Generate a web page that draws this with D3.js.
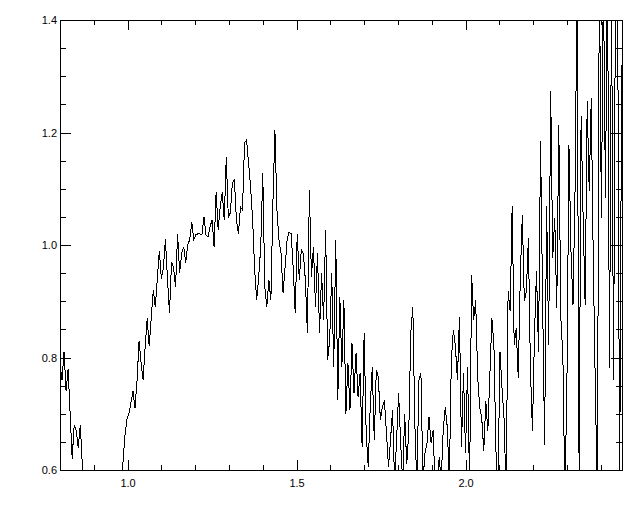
<!DOCTYPE html>
<html><head><meta charset="utf-8">
<script src="https://cdn.jsdelivr.net/npm/d3@7"></script>
<style>body{margin:0;background:#fff}svg{display:block}</style>
</head><body><svg id="c" width="640" height="512"></svg>
<script>
const wavelength = [
0.800,0.806,0.812,0.818,0.824,0.830,0.836,0.842,0.848,0.854,
0.860,0.866,0.872,0.878,0.884,0.890,0.896,0.902,0.908,0.914,
0.920,0.926,0.932,0.938,0.944,0.950,0.956,0.962,0.968,0.974,
0.980,0.986,0.992,0.998,1.004,1.010,1.016,1.022,1.028,1.034,
1.040,1.046,1.052,1.058,1.064,1.070,1.076,1.082,1.088,1.094,
1.100,1.106,1.112,1.118,1.124,1.130,1.136,1.142,1.148,1.154,
1.160,1.166,1.172,1.178,1.184,1.190,1.196,1.202,1.208,1.214,
1.220,1.226,1.232,1.238,1.244,1.250,1.256,1.262,1.268,1.274,
1.280,1.286,1.292,1.298,1.304,1.310,1.316,1.322,1.328,1.334,
1.340,1.346,1.352,1.358,1.364,1.370,1.376,1.382,1.388,1.394,
1.400,1.406,1.412,1.418,1.424,1.430,1.436,1.442,1.448,1.454,
1.460,1.466,1.472,1.478,1.484,1.490,1.496,1.502,1.508,1.514,
1.520,1.526,1.532,1.538,1.544,1.550,1.556,1.562,1.568,1.574,
1.580,1.586,1.592,1.598,1.604,1.610,1.616,1.622,1.628,1.634,
1.640,1.646,1.652,1.658,1.664,1.670,1.676,1.682,1.688,1.694,
1.700,1.706,1.712,1.718,1.724,1.730,1.736,1.742,1.748,1.754,
1.760,1.766,1.772,1.778,1.784,1.790,1.796,1.802,1.808,1.814,
1.820,1.826,1.832,1.838,1.844,1.850,1.856,1.862,1.868,1.874,
1.880,1.886,1.892,1.898,1.904,1.910,1.916,1.922,1.928,1.934,
1.940,1.946,1.952,1.958,1.964,1.970,1.976,1.982,1.988,1.994,
2.000,2.006,2.012,2.018,2.024,2.030,2.036,2.042,2.048,2.054,
2.060,2.066,2.072,2.078,2.084,2.090,2.096,2.102,2.108,2.114,
2.120,2.126,2.132,2.138,2.144,2.150,2.156,2.162,2.168,2.174,
2.180,2.186,2.192,2.198,2.204,2.210,2.216,2.222,2.228,2.234,
2.240,2.246,2.252,2.258,2.264,2.270,2.276,2.282,2.288,2.294,
2.300,2.306,2.312,2.318,2.324,2.330,2.336,2.342,2.348,2.354,
2.360,2.366,2.372,2.378,2.384,2.390,2.396,2.402,2.408,2.414,
2.420,2.426,2.432,2.438,2.444,2.450,2.456,2.462
];
const flux = [
0.79,0.76,0.81,0.74,0.78,0.70,0.62,0.68,0.67,0.64,
0.68,0.61,0.56,0.52,0.49,0.51,0.47,0.45,0.48,0.44,
0.46,0.42,0.45,0.43,0.47,0.45,0.49,0.48,0.52,0.55,
0.57,0.61,0.66,0.69,0.70,0.72,0.74,0.71,0.76,0.83,
0.79,0.76,0.82,0.87,0.82,0.87,0.92,0.89,0.94,0.99,
0.94,0.96,1.01,0.94,0.88,0.97,0.96,0.925,1.02,0.95,
0.985,0.997,0.968,1.0,1.01,1.04,1.01,1.018,1.02,1.02,
1.018,1.05,1.018,1.014,1.032,1.045,0.997,1.094,1.027,1.068,
1.094,1.045,1.157,1.05,1.057,1.11,1.116,1.045,1.02,1.068,
1.062,1.181,1.187,1.146,1.103,1.045,0.956,0.902,0.943,0.997,
1.128,0.925,0.89,0.938,0.902,1.074,1.204,1.062,1.009,0.985,
0.915,0.96,1.009,1.023,1.02,0.96,0.879,1.02,0.938,0.991,
0.985,0.938,0.844,1.098,0.943,0.997,0.89,0.985,0.844,0.95,
0.867,1.027,0.796,0.831,0.95,0.783,1.009,0.724,0.908,0.783,
0.902,0.70,0.79,0.707,0.826,0.737,0.808,0.73,0.772,0.641,
0.843,0.666,0.606,0.712,0.783,0.653,0.778,0.765,0.689,0.712,
0.724,0.666,0.606,0.653,0.707,0.58,0.653,0.737,0.648,0.58,
0.70,0.61,0.666,0.843,0.89,0.683,0.57,0.76,0.772,0.58,
0.63,0.648,0.694,0.648,0.671,0.57,0.55,0.623,0.58,0.671,
0.712,0.676,0.58,0.796,0.849,0.82,0.76,0.872,0.641,0.772,
0.63,0.783,0.57,0.947,0.867,0.902,0.765,0.712,0.692,0.634,
0.722,0.669,0.769,0.87,0.822,0.634,0.57,0.81,0.745,0.692,
0.56,0.918,0.882,1.07,0.822,0.852,0.764,0.941,1.053,0.90,
0.918,1.012,0.781,0.669,0.84,0.954,0.81,1.185,0.906,0.645,
1.07,0.822,1.274,0.977,1.048,0.888,1.213,0.87,0.804,0.55,
0.751,1.178,0.99,0.893,1.096,1.46,0.60,1.23,1.048,0.893,
1.256,1.096,1.261,0.972,0.751,0.55,1.5,1.048,1.48,1.084,
1.5,0.781,1.45,0.76,1.5,1.45,0.56,1.32
];
const xMajorTicks = [1.0, 1.5, 2.0];
const xMinorTicks = [0.9, 1.1, 1.2, 1.3, 1.4, 1.6, 1.7, 1.8, 1.9, 2.1, 2.2, 2.3, 2.4];
const xTickLabels = ["1.0", "1.5", "2.0"];
const yMajorTicks = [0.6, 0.8, 1.0, 1.2, 1.4];
const yMinorTicks = [0.65, 0.7, 0.75, 0.85, 0.9, 0.95, 1.05, 1.1, 1.15, 1.25, 1.3, 1.35];
const yTickLabels = ["0.6", "0.8", "1.0", "1.2", "1.4"];

const svg = d3.select("#c");
const L = 60, R = 622, T = 20, B = 470;
const x = d3.scaleLinear().domain([0.8, 2.463]).range([L, R]);
const y = d3.scaleLinear().domain([0.6, 1.4]).range([B, T]);
const FONT = "'Liberation Sans', Arial, sans-serif";

svg.append("defs").append("clipPath").attr("id", "clip")
  .append("rect").attr("x", L).attr("y", T).attr("width", R - L + 1).attr("height", B - T + 1);

const data = wavelength.map((w, i) => [w, flux[i]]);
svg.append("path").datum(data)
  .attr("clip-path", "url(#clip)")
  .attr("fill", "none").attr("stroke", "#000").attr("stroke-width", 1)
  .attr("shape-rendering", "crispEdges")
  .attr("d", d3.line().x(d => x(d[0])).y(d => y(d[1])));

function styleAxis(g) {
  g.select(".domain").remove();
  g.selectAll(".tick line").attr("stroke", "#000").attr("shape-rendering", "crispEdges");
  g.selectAll("text").attr("fill", "#000").attr("font-family", FONT).attr("font-size", 11);
}
svg.append("g").attr("transform", `translate(0,${B})`)
  .call(d3.axisBottom(x).tickValues(xMajorTicks).tickSize(-10).tickPadding(9)
    .tickFormat((d, i) => xTickLabels[i])).call(styleAxis);
svg.append("g").attr("transform", `translate(0,${B})`)
  .call(d3.axisBottom(x).tickValues(xMinorTicks).tickSize(-5).tickFormat("")).call(styleAxis);
svg.append("g").attr("transform", `translate(0,${T})`)
  .call(d3.axisTop(x).tickValues(xMajorTicks).tickSize(-10).tickFormat("")).call(styleAxis);
svg.append("g").attr("transform", `translate(0,${T})`)
  .call(d3.axisTop(x).tickValues(xMinorTicks).tickSize(-5).tickFormat("")).call(styleAxis);

svg.append("g").attr("transform", `translate(${L},0)`)
  .call(d3.axisLeft(y).tickValues(yMajorTicks).tickSize(-11).tickPadding(3)
    .tickFormat((d, i) => yTickLabels[i])).call(styleAxis);
svg.append("g").attr("transform", `translate(${L},0)`)
  .call(d3.axisLeft(y).tickValues(yMinorTicks).tickSize(-6).tickFormat("")).call(styleAxis);
svg.append("g").attr("transform", `translate(${R},0)`)
  .call(d3.axisRight(y).tickValues(yMajorTicks).tickSize(-11).tickFormat("")).call(styleAxis);
svg.append("g").attr("transform", `translate(${R},0)`)
  .call(d3.axisRight(y).tickValues(yMinorTicks).tickSize(-6).tickFormat("")).call(styleAxis);

svg.append("rect").attr("x", L + 0.5).attr("y", T + 0.5)
  .attr("width", R - L).attr("height", B - T)
  .attr("fill", "none").attr("stroke", "#000").attr("stroke-width", 1)
  .attr("shape-rendering", "crispEdges");
</script></body></html>
